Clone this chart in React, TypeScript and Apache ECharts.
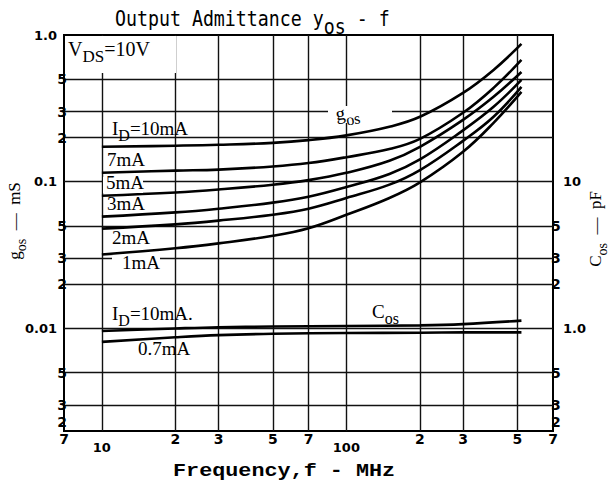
import React, { useEffect, useRef } from "react";
import * as echarts from "echarts";

// Frequency points (MHz) for g_os curves
const freqs = [10, 20, 30, 50, 70, 100, 150, 200, 300, 400, 520];
// g_os (mS) for each drain current
const gos10mA = [0.173, 0.176, 0.1785, 0.184, 0.192, 0.207, 0.237, 0.277, 0.403, 0.578, 0.869];
const gos7mA = [0.115, 0.119, 0.121, 0.127, 0.134, 0.147, 0.167, 0.196, 0.295, 0.436, 0.676];
const gos5mA = [0.0803, 0.0845, 0.0885, 0.0954, 0.1025, 0.115, 0.139, 0.173, 0.264, 0.379, 0.56];
const gos3mA = [0.0578, 0.0618, 0.0655, 0.072, 0.079, 0.092, 0.113, 0.142, 0.224, 0.324, 0.494];
const gos2mA = [0.0479, 0.0512, 0.0543, 0.0596, 0.0655, 0.0775, 0.0955, 0.12, 0.19, 0.277, 0.443];
const gos1mA = [0.0319, 0.0352, 0.038, 0.0428, 0.0482, 0.0595, 0.0775, 0.099, 0.16, 0.252, 0.41];

// C_os (pF)
const cosFreqs = [10, 20, 30, 50, 100, 200, 300, 520];
const cos10mA = [0.96, 1.0, 1.02, 1.03, 1.04, 1.05, 1.07, 1.13];
const cos07mA = [0.81, 0.87, 0.9, 0.92, 0.93, 0.935, 0.94, 0.94];

// Axis ticks / labels
const xGridValues = [10, 20, 30, 50, 70, 100, 200, 300, 500];
const xMajorLabels = [10, 100];
const xMinorLabels = [7, 20, 30, 50, 70, 200, 300, 500, 700];
const yGridValues = [0.003, 0.005, 0.01, 0.02, 0.03, 0.05, 0.1, 0.2, 0.3, 0.5];
const yMajorLabels = [0.01, 0.1, 1];
const yMinorLabels = [0.002, 0.003, 0.005, 0.02, 0.03, 0.05, 0.2, 0.3, 0.5];
const cMajorLabels = [1, 10];
const cMinorLabels = [0.2, 0.3, 0.5, 2, 3, 5];

const firstDigit = (v: number) => {
  const e = Math.floor(Math.log10(v) + 1e-9);
  return String(Math.round(v / Math.pow(10, e)));
};

const TICK_FONT = "DejaVu Sans";
const SERIF = "Liberation Serif";

export default function App() {
  const ref = useRef<HTMLDivElement>(null);
  useEffect(() => {
    if (!ref.current) return;
    const chart = echarts.init(ref.current, null, { renderer: "svg" });

    const lineSeries = (data: number[], xs: number[], yIdx: number) => ({
      type: "line",
      xAxisIndex: 0,
      yAxisIndex: yIdx,
      data: xs.map((f, i) => [f, data[i]]),
      smooth: 0.4,
      symbol: "none",
      showSymbol: false,
      silent: true,
      lineStyle: { color: "#000", width: 2.6 },
      z: 5,
    });

    const minorLabel = {
      fontFamily: TICK_FONT,
      fontWeight: "bold",
      fontSize: 14,
      color: "#000",
    };
    const majorLabel = {
      fontFamily: TICK_FONT,
      fontWeight: "bold",
      fontSize: 13,
      color: "#000",
    };

    const baseLog = {
      type: "log",
      logBase: 10,
      axisLine: { show: false },
    };

    // minor y labels; the lowest one is lifted off the corner
    const minorYLabel = (lowest: number) => ({
      ...minorLabel,
      formatter: (v: number) =>
        Math.abs(v - lowest) < lowest * 1e-3 ? `{lo|${firstDigit(v)}}` : firstDigit(v),
      rich: {
        lo: { ...minorLabel, padding: [0, 0, 18, 0] },
      },
    });

    const serifRich = (size: number) => ({
      m: { fontFamily: SERIF, fontSize: size, lineHeight: size + 6, verticalAlign: "top", fill: "#000" },
      s: { fontFamily: SERIF, fontSize: size - 3, lineHeight: size + 6, verticalAlign: "bottom", fill: "#000" },
    });

    const whiteRect = (x: number, y: number, w: number, h: number) => ({
      type: "rect",
      shape: { x, y, width: w, height: h },
      style: { fill: "#fff" },
      z: 40,
      silent: true,
    });

    const label = (x: number, y: number, text: string, size: number, extra: any = {}) => ({
      type: "text",
      x,
      y,
      z: 50,
      silent: true,
      ...extra,
      style: {
        text,
        rich: serifRich(size),
        align: "left",
        verticalAlign: "middle",
        fill: "#000",
      },
    });

    const option: any = {
      animation: false,
      backgroundColor: "#fff",
      grid: {
        left: 64,
        right: 63,
        top: 35,
        bottom: 57,
        show: true,
        borderColor: "#000",
        borderWidth: 2,
        backgroundColor: "transparent",
        containLabel: false,
        outerBoundsMode: "none",
      },
      xAxis: [
        {
          ...baseLog,
          min: 7,
          max: 700,
          position: "bottom",
          axisTick: { show: false, customValues: xGridValues },
          splitLine: { show: true, lineStyle: { color: "#111", width: 1.4 } },
          axisLabel: {
            ...majorLabel,
            customValues: xMajorLabels,
            margin: 10,
            formatter: (v: number) => (v >= 99 ? "100" : "10"),
          },
        },
        {
          ...baseLog,
          min: 7,
          max: 700,
          position: "bottom",
          axisTick: { show: false, customValues: xMinorLabels },
          splitLine: { show: false },
          axisLabel: {
            ...minorLabel,
            customValues: xMinorLabels,
            margin: 1,
            formatter: (v: number) => firstDigit(v),
          },
        },
      ],
      yAxis: [
        {
          ...baseLog,
          min: 0.002,
          max: 1,
          position: "left",
          axisTick: { show: false, customValues: yGridValues },
          splitLine: { show: true, lineStyle: { color: "#111", width: 1.4 } },
          axisLabel: {
            ...majorLabel,
            customValues: yMajorLabels,
            margin: 7,
            formatter: (v: number) => (v >= 0.99 ? "1.0" : v >= 0.099 ? "0.1" : "0.01"),
          },
        },
        {
          ...baseLog,
          min: 0.002,
          max: 1,
          position: "left",
          axisTick: { show: false, customValues: yMinorLabels },
          splitLine: { show: false },
          axisLabel: {
            ...minorYLabel(0.002),
            customValues: yMinorLabels,
            margin: -3,
          },
        },
        {
          ...baseLog,
          min: 0.2,
          max: 100,
          position: "right",
          axisTick: { show: false, customValues: cMajorLabels },
          splitLine: { show: false },
          axisLabel: {
            ...majorLabel,
            customValues: cMajorLabels,
            margin: 10,
            formatter: (v: number) => (v >= 9.9 ? "10" : "1.0"),
          },
        },
        {
          ...baseLog,
          min: 0.2,
          max: 100,
          position: "right",
          axisTick: { show: false, customValues: cMinorLabels },
          splitLine: { show: false },
          axisLabel: {
            ...minorYLabel(0.2),
            customValues: cMinorLabels,
            margin: -2,
          },
        },
      ],
      series: [
        lineSeries(gos10mA, freqs, 0),
        lineSeries(gos7mA, freqs, 0),
        lineSeries(gos5mA, freqs, 0),
        lineSeries(gos3mA, freqs, 0),
        lineSeries(gos2mA, freqs, 0),
        lineSeries(gos1mA, freqs, 0),
        lineSeries(cos10mA, cosFreqs, 2),
        lineSeries(cos07mA, cosFreqs, 2),
      ],
      graphic: [
        // title
        {
          type: "text",
          x: 115,
          y: 7,
          scaleX: 0.83,
          z: 50,
          silent: true,
          style: {
            text: "{a|Output Admittance y}{b|os}{a| - f}",
            align: "left",
            verticalAlign: "top",
            rich: {
              a: { fontFamily: "DejaVu Sans Mono", fontSize: 22, lineHeight: 30, verticalAlign: "top", fill: "#000" },
              b: { fontFamily: "DejaVu Sans Mono", fontSize: 22, lineHeight: 30, verticalAlign: "bottom", fill: "#000" },
            },
          },
        },
        // x axis name
        {
          type: "text",
          x: 173,
          y: 471,
          scaleX: 1.21,
          z: 50,
          silent: true,
          style: {
            text: "Frequency,f - MHz",
            fontFamily: "Liberation Mono",
            fontWeight: "bold",
            fontSize: 18,
            align: "left",
            verticalAlign: "middle",
            fill: "#000",
          },
        },
        // left axis name
        {
          type: "text",
          x: 17,
          y: 221,
          rotation: Math.PI / 2,
          z: 50,
          silent: true,
          style: {
            text: "{m|g}{s|os}{m|  —  mS}",
            align: "center",
            verticalAlign: "middle",
            rich: serifRich(17),
          },
        },
        // right axis name
        {
          type: "text",
          x: 598,
          y: 229,
          rotation: Math.PI / 2,
          z: 50,
          silent: true,
          style: {
            text: "{m|C}{s|os}{m|  —  pF}",
            align: "center",
            verticalAlign: "middle",
            rich: serifRich(17),
          },
        },
        // white masks behind labels
        whiteRect(66, 36, 110, 37),
        whiteRect(103, 177, 40, 16),
        whiteRect(112, 257, 48, 15),
        whiteRect(328, 106, 64, 17),
        // labels
        label(68, 52, "{m|V}{s|DS}{m|=10V}", 20),
        label(112, 131, "{m|I}{s|D}{m|=10mA}", 19),
        label(107, 162, "{m|7mA}", 19),
        label(106, 185, "{m|5mA}", 19),
        label(107, 206, "{m|3mA}", 19),
        label(112, 240, "{m|2mA}", 19),
        label(122, 265, "{m|1mA}", 19),
        label(336, 117, "{m|g}{s|os}", 19, { rotation: 0.15 }),
        label(112, 316, "{m|I}{s|D}{m|=10mA.}", 19),
        label(372, 314, "{m|C}{s|os}", 19),
        label(138, 351, "{m|0.7mA}", 19),
      ],
    };

    chart.setOption(option);
    return () => chart.dispose();
  }, []);

  return (
    <div
      ref={ref}
      style={{ position: "fixed", left: 0, top: 0, width: 616, height: 488, background: "#fff" }}
    />
  );
}
